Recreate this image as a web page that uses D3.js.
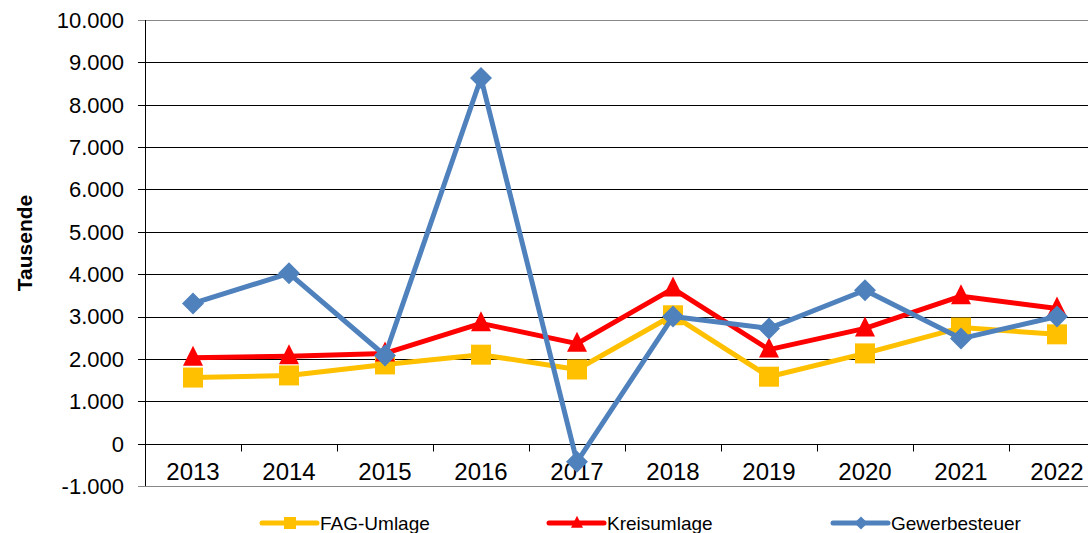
<!DOCTYPE html>
<html>
<head>
<meta charset="utf-8">
<script src="https://cdn.jsdelivr.net/npm/d3@7"></script>
<style>
  body { margin: 0; background: #fff; }
  text { font-family: "Liberation Sans", Arial, sans-serif; }
</style>
</head>
<body>
<svg id="chart" width="1088" height="533"></svg>
<script>
var years = ["2013", "2014", "2015", "2016", "2017", "2018", "2019", "2020", "2021", "2022"];
var fagUmlage = [1560, 1610, 1870, 2100, 1750, 3030, 1580, 2130, 2740, 2580];
var kreisUmlage = [2030, 2060, 2130, 2840, 2360, 3660, 2220, 2720, 3480, 3190];
var gewerbesteuer = [3310, 4020, 2080, 8630, -430, 3000, 2720, 3620, 2480, 3000];
var yTicks = [-1000, 0, 1000, 2000, 3000, 4000, 5000, 6000, 7000, 8000, 9000, 10000];

!function() {

  var series = [
    {name: "FAG-Umlage", values: fagUmlage, color: "#FFC000", marker: "square"},
    {name: "Kreisumlage", values: kreisUmlage, color: "#FF0000", marker: "triangle"},
    {name: "Gewerbesteuer", values: gewerbesteuer, color: "#4F81BD", marker: "diamond"}
  ];

  var svg = d3.select("#chart");

  var plotLeft = 145, plotTop = 20, plotBottom = 486, step = 96;

  var x = d3.scaleBand()
    .domain(years)
    .range([plotLeft, plotLeft + step * years.length]);

  var y = d3.scaleLinear()
    .domain([-1000, 10000])
    .range([plotBottom, plotTop]);

  // German number format, plain hyphen for negatives
  var fmt = function(d) {
    return (d < 0 ? "-" : "") + d3.format(",")(Math.abs(d)).replace(/,/g, ".");
  };

  // horizontal gridlines
  svg.append("g").selectAll("line")
    .data(yTicks)
    .enter().append("line")
    .attr("x1", plotLeft - 7)
    .attr("x2", 1088)
    .attr("y1", function(d) { return Math.round(y(d)) + 0.5; })
    .attr("y2", function(d) { return Math.round(y(d)) + 0.5; })
    .attr("stroke", function(d) { return (d === 10000 || d === -1000) ? "#888" : "#000"; })
    .attr("stroke-width", 1);

  // y tick labels
  svg.append("g").selectAll("text")
    .data(yTicks)
    .enter().append("text")
    .attr("x", 124)
    .attr("y", function(d) { return y(d); })
    .attr("dy", "0.36em")
    .attr("text-anchor", "end")
    .style("font-size", "22px")
    .attr("fill", "#000")
    .text(fmt);

  // y axis line
  svg.append("line")
    .attr("x1", plotLeft + 0.5).attr("x2", plotLeft + 0.5)
    .attr("y1", plotTop).attr("y2", plotBottom)
    .attr("stroke", "#000");

  // x axis ticks (category boundaries) on zero line
  var zeroY = Math.round(y(0)) + 0.5;
  svg.append("g").selectAll("line")
    .data(years.slice(1))
    .enter().append("line")
    .attr("x1", function(d) { return Math.round(x(d)) + 0.5; })
    .attr("x2", function(d) { return Math.round(x(d)) + 0.5; })
    .attr("y1", zeroY)
    .attr("y2", zeroY + 7)
    .attr("stroke", "#000");

  // year labels
  svg.append("g").selectAll("text")
    .data(years)
    .enter().append("text")
    .attr("x", function(d) { return x(d) + x.bandwidth() / 2; })
    .attr("y", 480)
    .attr("text-anchor", "middle")
    .style("font-size", "24px")
    .attr("fill", "#000")
    .text(function(d) { return d; });

  // axis title
  svg.append("text")
    .attr("transform", "translate(32,243) rotate(-90)")
    .attr("text-anchor", "middle")
    .style("font-size", "21px")
    .style("font-weight", "bold")
    .text("Tausende");

  var cx = function(d, i) { return x(years[i]) + x.bandwidth() / 2; };

  function markerPath(type) {
    if (type === "square") return "M-10,-10H10V10H-10Z";
    if (type === "triangle") return "M0,-12L10,8H-10Z";
    return "M0,-11L11,0L0,11L-11,0Z";
  }

  var line = d3.line()
    .x(cx)
    .y(function(d) { return y(d); });

  series.forEach(function(s) {
    var g = svg.append("g");
    g.append("path")
      .datum(s.values)
      .attr("d", line)
      .attr("fill", "none")
      .attr("stroke", s.color)
      .attr("stroke-width", 5)
      .attr("stroke-linejoin", "round");
    g.selectAll("path.m")
      .data(s.values)
      .enter().append("path")
      .attr("class", "m")
      .attr("transform", function(d, i) { return "translate(" + cx(d, i) + "," + y(d) + ")"; })
      .attr("d", markerPath(s.marker))
      .attr("fill", s.color);
  });

  // legend
  var legendX = [262, 549, 833];
  var legend = svg.append("g");
  series.forEach(function(s, i) {
    var lx = legendX[i], ly = 523;
    legend.append("line")
      .attr("x1", lx).attr("x2", lx + 55)
      .attr("y1", ly).attr("y2", ly)
      .attr("stroke", s.color)
      .attr("stroke-width", 5)
      .attr("stroke-linecap", "round");
    legend.append("path")
      .attr("transform", "translate(" + (lx + 28) + "," + ly + ") scale(0.6)")
      .attr("d", markerPath(s.marker))
      .attr("fill", s.color);
    legend.append("text")
      .attr("x", lx + 58)
      .attr("y", ly)
      .attr("dy", "0.36em")
      .style("font-size", "19px")
      .text(s.name);
  });

}();
</script>
</body>
</html>
